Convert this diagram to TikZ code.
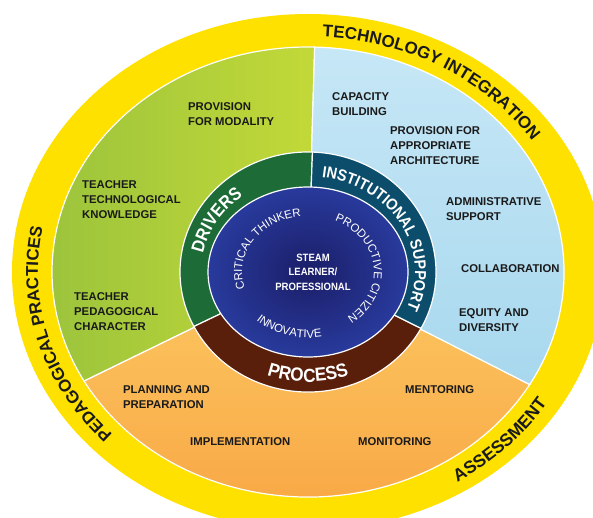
\documentclass[tikz,border=0pt]{standalone}
\usepackage{fontspec}
\setmainfont{Liberation Sans}
\newfontfamily\ringsf[FakeStretch=0.9]{Liberation Sans}
\usetikzlibrary{decorations.text}
\definecolor{rimY}{HTML}{FFE100}
\definecolor{leafL}{HTML}{9CC43C}
\definecolor{leafR}{HTML}{C2D938}
\definecolor{sunT}{HTML}{FCC862}
\definecolor{sunB}{HTML}{F8A543}
\definecolor{skyT}{HTML}{C6E7F6}
\definecolor{skyB}{HTML}{A8D8EE}
\definecolor{drvG}{HTML}{1D6B37}
\definecolor{instB}{HTML}{0C4D6C}
\definecolor{procB}{HTML}{5A1F0B}
\definecolor{coreO}{HTML}{283A9C}
\definecolor{coreI}{HTML}{1B1E68}
\definecolor{ink}{HTML}{1A1A1A}

\begin{document}
\begin{tikzpicture}[x=1pt,y=1pt,
                    item/.style={font=\bfseries\fontsize{11.3}{15}\selectfont,text=ink,
                                 align=left,anchor=north west,inner sep=0pt},
                    cut/.style={draw=white,line width=1.2pt}]
  \tikzstyle{rim}=[decorate,decoration={text along path,text align=center}]

  \fill[white] (0,0) rectangle (593,517);
  \useasboundingbox (0,0) rectangle (593,517);
  \clip (0,0) rectangle (593,517);
  \coordinate (c) at (308,245);

  \fill[rimY] (c) ellipse [x radius=296pt,y radius=258pt];
  \path[cut,left color=leafL,right color=leafR]
    (c) -- ([shift={(c)}]88.5:256pt and 225pt)
        arc[start angle=88.5,end angle=209,x radius=256pt,y radius=225pt] -- cycle;
  \path[cut,top color=sunT,bottom color=sunB]
    (c) -- ([shift={(c)}]209:256pt and 225pt)
        arc[start angle=209,end angle=330,x radius=256pt,y radius=225pt] -- cycle;
  \path[cut,top color=skyT,bottom color=skyB]
    (c) -- ([shift={(c)}]330:256pt and 225pt)
        arc[start angle=330,end angle=448.5,x radius=256pt,y radius=225pt] -- cycle;

  \path[cut,fill=drvG]
    (c) -- ([shift={(c)}]88:128pt and 120pt)
        arc[start angle=88,end angle=207,x radius=128pt,y radius=120pt] -- cycle;
  \path[cut,fill=procB]
    (c) -- ([shift={(c)}]207:128pt and 120pt)
        arc[start angle=207,end angle=332,x radius=128pt,y radius=120pt] -- cycle;
  \path[cut,fill=instB]
    (c) -- ([shift={(c)}]332:128pt and 120pt)
        arc[start angle=332,end angle=448,x radius=128pt,y radius=120pt] -- cycle;
  \path[cut,inner color=coreI,outer color=coreO] (c) ellipse [x radius=100pt,y radius=85pt];

  \path[rim,decoration={text={|\bfseries\fontsize{17}{17}\selectfont\color{ink}|TECHNOLOGY INTEGRATION}}]
    ([shift={(c)}]128:270pt and 235.5pt) arc[start angle=128,end angle=-12,x radius=270pt,y radius=235.5pt];
  \path[rim,decoration={text={|\bfseries\fontsize{17}{17}\selectfont\color{ink}|PEDAGOGICAL PRACTICES}}]
    ([shift={(c)}]265:270pt and 235.5pt) arc[start angle=265,end angle=125,x radius=270pt,y radius=235.5pt];
  \path[rim,decoration={text={|\bfseries\fontsize{17.5}{17.5}\selectfont\color{ink}|ASSESSMENT}}]
    ([shift={(c)}]267:282pt and 247.5pt) arc[start angle=267,end angle=367,x radius=282pt,y radius=247.5pt];

  \path[rim,decoration={text={|\ringsf\bfseries\fontsize{18}{18}\selectfont\color{white}|DRIVERS}}]
    ([shift={(c)}]210:107pt and 95.5pt) arc[start angle=210,end angle=90,x radius=107pt,y radius=95.5pt];
  \path[rim,decoration={text={|\ringsf\bfseries\fontsize{16}{16}\selectfont\color{white}|INSTITUTIONAL SUPPORT}}]
    ([shift={(c)}]109:107pt and 95.5pt) arc[start angle=109,end angle=-51,x radius=107pt,y radius=95.5pt];
  \path[rim,decoration={text={|\ringsf\bfseries\fontsize{19}{19}\selectfont\color{white}|PROCESS}}]
    ([shift={(c)}]210:121pt and 110pt) arc[start angle=210,end angle=330,x radius=121pt,y radius=110pt];

  \path[rim,decoration={text={|\fontsize{11.5}{11.5}\selectfont\color{white}|CRITICAL THINKER}}]
    ([shift={(c)}]223:66pt and 56pt) arc[start angle=223,end angle=73,x radius=66pt,y radius=56pt];
  \path[rim,decoration={text={|\fontsize{11.5}{11.5}\selectfont\color{white}|PRODUCTIVE CITIZEN}}]
    ([shift={(c)}]81:66pt and 56pt) arc[start angle=81,end angle=-69,x radius=66pt,y radius=56pt];
  \path[rim,decoration={text={|\fontsize{11.5}{11.5}\selectfont\color{white}|INNOVATIVE}}]
    ([shift={(c)}]203:76pt and 66pt) arc[start angle=203,end angle=303,x radius=76pt,y radius=66pt];

  \node[font=\ringsf\bfseries\fontsize{10.6}{14.5}\selectfont,text=white,align=center]
    (steam) at (313,245) {STEAM\\LEARNER/\\PROFESSIONAL};

  \node[item] (modality)   at (188,415) {PROVISION\\FOR MODALITY};
  \node[item] (techknow)   at (82,337)  {TEACHER\\TECHNOLOGICAL\\KNOWLEDGE};
  \node[item] (pedchar)    at (74,225)  {TEACHER\\PEDAGOGICAL\\CHARACTER};
  \node[item] (capacity)   at (332,425) {CAPACITY\\BUILDING};
  \node[item] (archi)      at (390,391) {PROVISION FOR\\APPROPRIATE\\ARCHITECTURE};
  \node[item] (admin)      at (446,320) {ADMINISTRATIVE\\SUPPORT};
  \node[item] (collab)     at (461,253) {COLLABORATION};
  \node[item] (equity)     at (459,209) {EQUITY AND\\DIVERSITY};
  \node[item] (planning)   at (123,132) {PLANNING AND\\PREPARATION};
  \node[item] (implement)  at (190,80)  {IMPLEMENTATION};
  \node[item] (mentoring)  at (405,132) {MENTORING};
  \node[item] (monitoring) at (358,80)  {MONITORING};
\end{tikzpicture}
\end{document}
